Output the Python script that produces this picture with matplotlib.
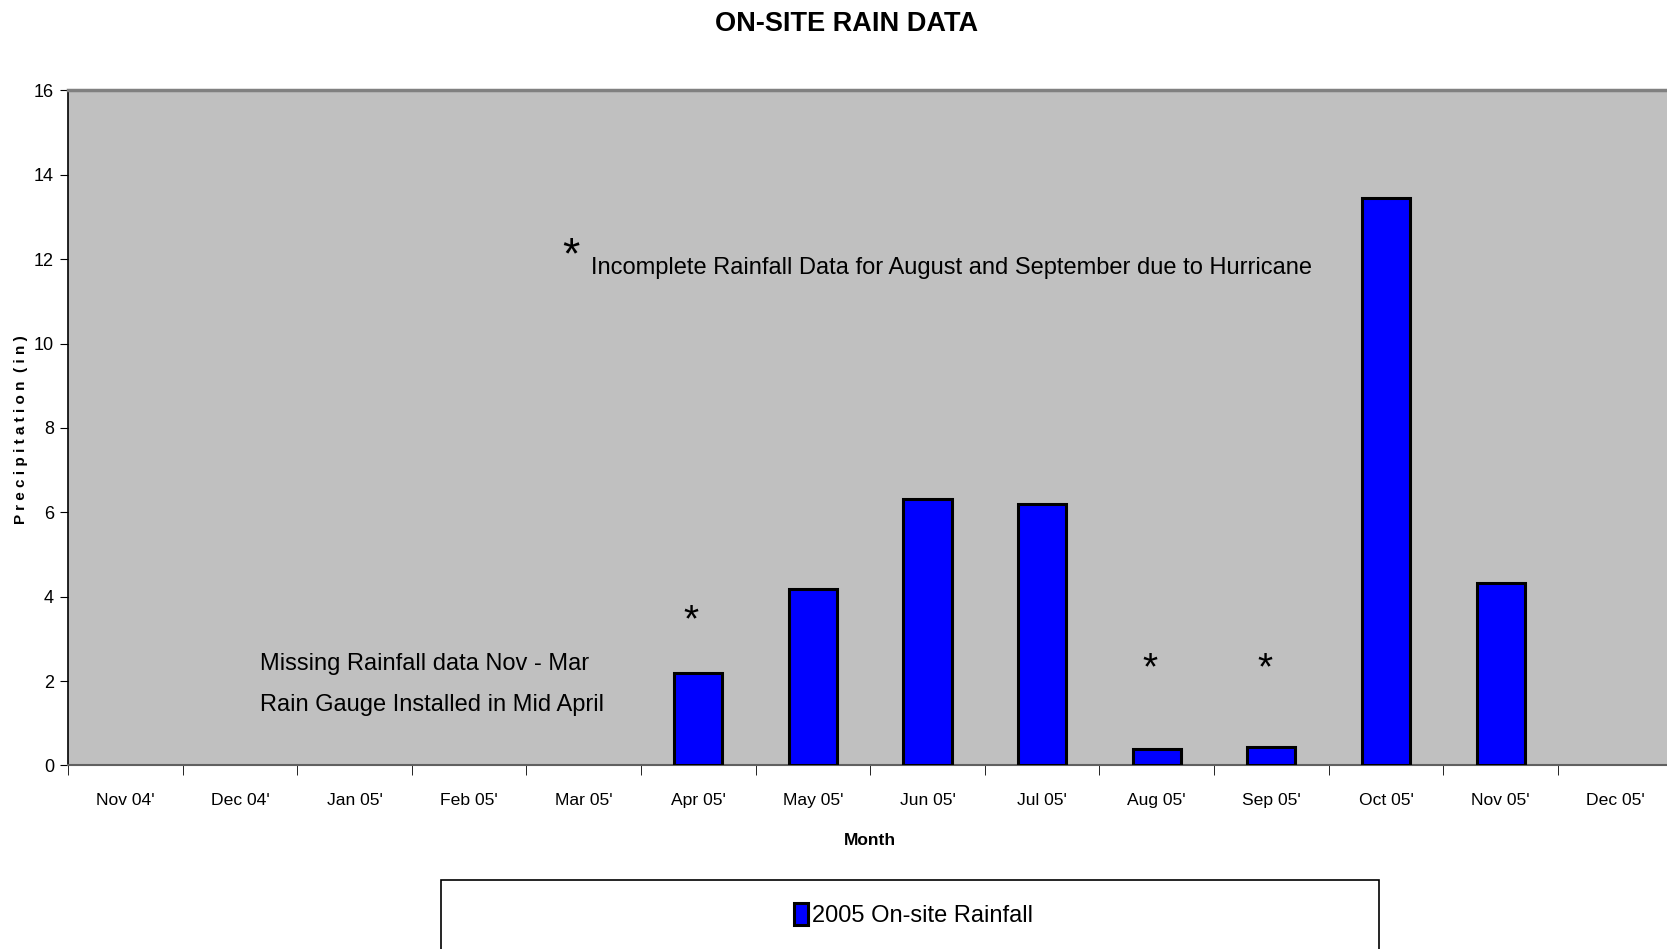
"""
On-site rain data: monthly precipitation bar chart, Nov 2004 - Dec 2005.

Output:
- Saves the chart to: out.png
"""

import matplotlib.pyplot as plt
from matplotlib.patches import Rectangle

OUTPUT_PATH = "out.png"

NAN = float("nan")  # months with no gauge data

months = ["Nov 04'", "Dec 04'", "Jan 05'", "Feb 05'", "Mar 05'", "Apr 05'", "May 05'",
          "Jun 05'", "Jul 05'", "Aug 05'", "Sep 05'", "Oct 05'", "Nov 05'", "Dec 05'"]
rainfall = [NAN, NAN, NAN, NAN, NAN, 2.2, 4.18, 6.32, 6.2, 0.4, 0.43, 13.45, 4.33, NAN]
y_ticks = [0, 2, 4, 6, 8, 10, 12, 14, 16]

# months flagged as incomplete (hurricane / late gauge install)
flagged = ["Apr 05'", "Aug 05'", "Sep 05'"]
flag_heights = [3.42, 2.28, 2.28]

FONT = ["Liberation Sans", "DejaVu Sans"]


def main() -> None:
    plt.rcParams["font.family"] = FONT

    fig = plt.figure(figsize=(16.67, 9.49), dpi=100)
    ax = fig.add_axes([0.0408, 0.1934, 0.9625, 0.7113])
    ax.set_facecolor("#c0c0c0")

    x = list(range(len(months)))
    ax.bar(x, rainfall, width=0.42, color="#0000ff", edgecolor="black",
           linewidth=2.2, label="2005 On-site Rainfall", zorder=3)

    ax.set_xlim(-0.5, len(months) - 0.5)
    ax.set_ylim(0, 16)
    ax.set_yticks(y_ticks)
    ax.tick_params(axis="y", labelsize=13, direction="out", length=6, pad=4)

    # labels centred under bars, tick marks at category boundaries
    ax.set_xticks(x)
    ax.set_xticklabels(months, fontsize=12.6)
    ax.tick_params(axis="x", which="major", length=0, pad=20)
    ax.set_xticks([i - 0.5 for i in range(len(months) + 1)], minor=True)
    ax.tick_params(axis="x", which="minor", length=7, direction="out")

    for side in ["top", "right"]:
        ax.spines[side].set_color("#808080")
        ax.spines[side].set_linewidth(2.5)
    ax.spines["left"].set_color("black")
    ax.spines["left"].set_linewidth(1.2)
    ax.spines["bottom"].set_color("#606060")
    ax.spines["bottom"].set_linewidth(1.5)

    ax.set_xlabel("Month", fontsize=12.5, fontweight="bold", labelpad=18)
    ax.set_ylabel("P r e c i p i t a t i o n  ( i n )", fontsize=11,
                  fontweight="bold", va="center")
    ax.yaxis.set_label_coords(-0.029, 0.497)
    fig.text(0.508, 0.975, "ON-SITE RAIN DATA", fontsize=19.5, fontweight="bold",
             ha="center", va="center")

    # annotations
    for m, h in zip(flagged, flag_heights):
        ax.text(months.index(m) - 0.06, h, "*", fontsize=28, ha="center",
                va="center")
    ax.text(3.888, 12.05, "*", fontsize=32, ha="center", va="center")
    ax.text(4.064, 11.8, "Incomplete Rainfall Data for August and September due to Hurricane",
            fontsize=17, ha="left", va="center")
    ax.text(1.179, 2.4, "Missing Rainfall data Nov - Mar", fontsize=17,
            ha="left", va="center")
    ax.text(1.179, 1.44, "Rain Gauge Installed in Mid April", fontsize=17,
            ha="left", va="center")

    # legend box running off the bottom edge
    fig.patches.append(Rectangle((441 / 1667, -0.05), 938 / 1667, 0.05 + 69 / 949,
                                 transform=fig.transFigure, facecolor="white",
                                 edgecolor="black", linewidth=1.2))
    fig.legend(loc="center", bbox_to_anchor=(0.548, 1 - 915 / 949), frameon=False,
               fontsize=17, handlelength=0.6, handleheight=1.1, handletextpad=0.2)

    fig.savefig(OUTPUT_PATH, dpi=100)


if __name__ == "__main__":
    main()
